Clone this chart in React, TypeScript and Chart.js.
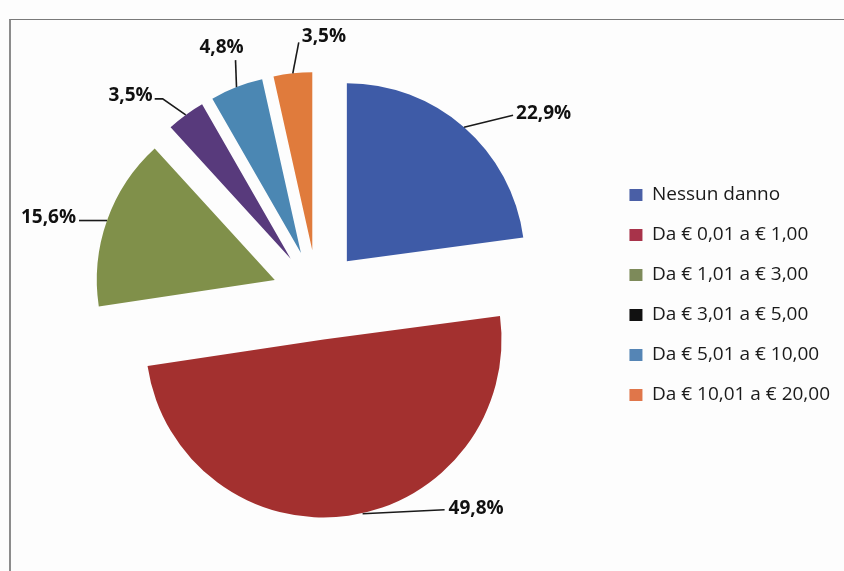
import React, { useEffect, useRef } from "react";
import { Chart, registerables } from "chart.js";

Chart.register(...registerables);

const categories = [
  "Nessun danno",
  "Da € 0,01 a € 1,00",
  "Da € 1,01 a € 3,00",
  "Da € 3,01 a € 5,00",
  "Da € 5,01 a € 10,00",
  "Da € 10,01 a € 20,00",
];
const values = [22.9, 49.8, 15.6, 3.5, 4.8, 3.5];
const percentLabels = ["22,9%", "49,8%", "15,6%", "3,5%", "4,8%", "3,5%"];
const sliceColors = ["#3E5BA7", "#A3302F", "#80904A", "#583A7C", "#4B87B3", "#E07B3C"];
const legendColors = ["#4A5FA6", "#A8334A", "#7D8A5A", "#111111", "#5585B5", "#E0764A"];

// leader-line layout for each label, relative to the slice's outer mid point
const labelLayout = [
  { start: [0, 0], path: [[49, -12]], align: "left", tx: 3, ty: -2 },
  { start: [14, -2], path: [[96, -6]], align: "left", tx: 4, ty: -1 },
  { start: [0, 0], path: [[-28, 0]], align: "right", tx: -3, ty: -3 },
  { start: [0, 0], path: [[-23, -16], [-31, -16]], align: "right", tx: -2, ty: -3 },
  { start: [0, 0], path: [[-1, -27]], align: "center", tx: -14, ty: -13 },
  { start: [0, 0], path: [[6, -31]], align: "left", tx: 3, ty: -6 },
];

const EXPLODE = 45;

const explodePlugin = {
  id: "explodeLabels",
  beforeDatasetDraw(chart: any, args: any) {
    const meta = chart.getDatasetMeta(args.index);
    const ctx = chart.ctx;
    meta.data.forEach((arc: any) => {
      const mid = (arc.startAngle + arc.endAngle) / 2;
      ctx.save();
      ctx.translate(Math.cos(mid) * EXPLODE, Math.sin(mid) * EXPLODE);
      arc.draw(ctx);
      ctx.restore();
    });
    return false;
  },
  afterDatasetsDraw(chart: any) {
    const meta = chart.getDatasetMeta(0);
    const ctx = chart.ctx;
    ctx.save();
    ctx.strokeStyle = "#1a1a1a";
    ctx.lineWidth = 1.6;
    ctx.fillStyle = "#111111";
    ctx.font = "bold 19px 'Open Sans'";
    ctx.textBaseline = "middle";
    meta.data.forEach((arc: any, i: number) => {
      const mid = (arc.startAngle + arc.endAngle) / 2;
      const d = EXPLODE + arc.outerRadius;
      const px = arc.x + Math.cos(mid) * d;
      const py = arc.y + Math.sin(mid) * d;
      const L = labelLayout[i];
      ctx.beginPath();
      ctx.moveTo(px + L.start[0], py + L.start[1]);
      let ex = px, ey = py;
      L.path.forEach((p) => {
        ex = px + p[0];
        ey = py + p[1];
        ctx.lineTo(ex, ey);
      });
      ctx.stroke();
      ctx.textAlign = L.align;
      ctx.fillText(percentLabels[i], ex + L.tx, ey + L.ty);
    });
    ctx.restore();
  },
};

function PieChart() {
  const ref = useRef<HTMLCanvasElement | null>(null);
  useEffect(() => {
    if (!ref.current) return;
    const chart = new Chart(ref.current, {
      type: "pie",
      data: {
        labels: categories,
        datasets: [
          {
            data: values,
            backgroundColor: sliceColors,
            borderWidth: 0,
          },
        ],
      },
      options: {
        animation: false,
        responsive: true,
        maintainAspectRatio: false,
        events: [],
        layout: { padding: { left: 26, right: 4, top: 117, bottom: 98 } },
        plugins: {
          tooltip: { enabled: false },
          legend: {
            position: "right",
            labels: {
              boxWidth: 13,
              boxHeight: 12,
              padding: 21,
              color: "#1a1a1a",
              font: { family: "'Open Sans'", size: 19 },
              generateLabels: () =>
                categories.map((text, i) => ({
                  text,
                  fillStyle: legendColors[i],
                  strokeStyle: legendColors[i],
                  lineWidth: 0,
                  hidden: false,
                  index: i,
                  fontColor: "#1a1a1a",
                })),
            },
          },
        },
      },
      plugins: [explodePlugin],
    } as any);
    return () => chart.destroy();
  }, []);
  return <canvas ref={ref} />;
}

export default function App() {
  return (
    <div
      style={{
        position: "fixed",
        left: 0,
        top: 0,
        width: 844,
        height: 571,
        background: "#fdfdfd",
        overflow: "hidden",
      }}
    >
      <div
        style={{
          position: "absolute",
          left: 9,
          top: 19,
          width: 900,
          height: 600,
          borderLeft: "2px solid #8c8c8c",
          borderTop: "1.5px solid #7a7a7a",
        }}
      />
      <div style={{ position: "absolute", left: 0, top: 0, width: 844, height: 571 }}>
        <PieChart />
      </div>
    </div>
  );
}
